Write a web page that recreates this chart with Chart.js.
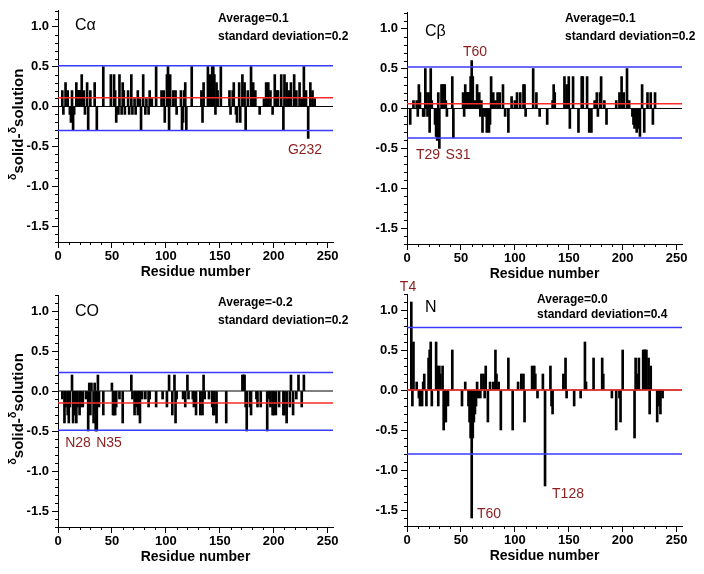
<!DOCTYPE html>
<html><head><meta charset="utf-8">
<script src="https://cdn.jsdelivr.net/npm/chart.js@4/dist/chart.umd.min.js"></script>
<style>
html,body{margin:0;padding:0;background:#fff;}
#wrap{position:relative;width:704px;height:574px;background:#fff;overflow:hidden;}
canvas{position:absolute;}
</style></head><body>
<div id="wrap">
<canvas id="c0" width="352" height="287" style="left:0px;top:0px"></canvas>
<canvas id="c1" width="352" height="287" style="left:349px;top:2px"></canvas>
<canvas id="c2" width="352" height="297" style="left:0px;top:275px"></canvas>
<canvas id="c3" width="352" height="297" style="left:349px;top:274px"></canvas>
</div>
<script>
// ---------- data ----------
const xTicks = [0, 50, 100, 150, 200, 250];
const yTicks = [1.0, 0.5, 0.0, -0.5, -1.0, -1.5];

const caRes = [4,5,7,9,11,12,13,14,15,17,18,19,20,21,22,24,25,27,28,30,34,36,42,49,52,53,54,56,57,59,60,61,62,65,66,68,69,71,72,74,76,77,79,81,82,84,85,87,91,96,98,99,101,102,103,104,107,109,110,114,115,116,117,118,119,124,133,134,135,139,141,143,144,145,146,147,148,151,159,160,162,163,165,166,168,169,171,173,174,176,179,181,183,187,191,193,195,197,199,201,203,204,207,209,210,212,214,216,219,221,224,226,228,230,232,234,236,238];
const caVal = [0.2,-0.1,0.3,0.2,-0.1,-0.2,0.2,-0.3,-0.1,0.3,0.2,0.2,0.2,0.2,0.4,0.2,-0.1,0.3,-0.3,0.2,0.3,-0.3,0.5,0.4,0.4,0.2,-0.2,-0.1,0.4,-0.1,0.3,0.2,-0.1,0.2,-0.1,0.4,-0.1,0.1,-0.1,0.2,0.1,-0.3,0.4,-0.1,0.1,-0.1,0.2,0.1,0.5,0.2,0.2,-0.2,0.4,0.5,-0.3,0.4,0.2,0.2,-0.1,0.2,-0.3,-0.2,0.2,0.3,-0.3,0.5,0.2,-0.2,0.3,0.5,0.4,0.5,0.5,0.4,-0.1,0.3,0.2,0.5,0.2,-0.1,0.2,0.3,-0.1,-0.2,0.3,-0.2,0.4,0.3,-0.3,0.2,0.5,0.3,0.2,-0.1,0.1,0.3,0.3,0.2,-0.1,0.4,0.2,0.2,0.4,-0.3,0.4,0.3,0.2,0.3,0.4,0.2,0.3,0.1,0.5,0.2,-0.4,0.3,0.2,0.1];

const cbRes = [3,6,9,10,11,12,15,16,17,18,19,20,21,22,23,26,27,28,29,30,32,33,34,35,36,37,42,43,52,53,54,55,56,57,58,59,60,61,63,65,67,68,69,70,72,74,76,77,78,79,80,82,84,86,89,91,94,97,100,102,105,108,109,110,117,120,123,130,135,136,137,146,148,150,151,154,159,162,163,167,169,171,174,176,177,179,180,183,185,194,197,199,201,204,206,209,210,211,212,213,214,215,216,218,220,223,226,228,230];
const cbVal = [-0.2,0.1,0.1,-0.1,0.3,0.2,-0.1,-0.1,0.5,0.2,-0.1,0.2,-0.3,0.5,0.1,-0.2,-0.35,-0.4,0.2,-0.5,0.3,0.3,0.3,0.3,0.1,-0.1,0.4,-0.37,0.2,-0.1,0.3,0.2,0.2,0.2,0.2,0.4,0.6,0.4,0.1,0.3,0.2,-0.1,0.1,-0.3,-0.1,-0.3,-0.3,-0.2,0.4,0.1,0.2,0.1,0.2,0.2,0.3,-0.1,-0.3,0.15,0.1,0.2,0.2,0.3,0.3,-0.1,0.5,0.2,-0.1,-0.2,0.1,0.3,0.2,0.4,0.3,0.4,-0.25,0.4,-0.3,0.4,0.4,0.4,-0.3,-0.3,0.1,0.2,-0.1,0.2,0.4,0.1,-0.2,0.1,0.2,0.4,0.2,0.5,0.1,-0.1,-0.2,-0.25,-0.2,-0.3,-0.25,-0.2,-0.35,0.3,-0.3,0.2,0.2,-0.2,0.2];

const coRes = [4,6,7,9,10,11,13,14,15,16,17,18,20,21,23,26,28,29,30,31,33,34,35,36,37,38,42,50,51,52,53,54,57,60,68,69,71,72,74,75,76,78,81,84,85,91,97,101,103,106,108,109,110,116,118,120,121,125,126,128,132,134,135,136,140,143,144,145,147,156,171,172,173,174,175,178,179,184,185,188,194,196,197,199,200,202,205,209,210,212,215,216,218,221,223,226,228];
const coVal = [-0.1,-0.4,-0.2,-0.3,-0.4,-0.2,0.2,-0.4,-0.1,-0.3,-0.4,-0.2,-0.3,-0.2,-0.2,-0.1,-0.5,0.1,-0.3,0.1,-0.4,0.1,-0.5,-0.5,0.2,-0.2,-0.3,0.1,-0.3,-0.3,-0.3,-0.2,-0.1,-0.4,0.2,-0.1,-0.3,-0.2,-0.3,-0.2,-0.4,-0.1,-0.1,-0.2,-0.1,-0.2,-0.1,-0.2,0.2,-0.3,0.2,-0.4,-0.1,-0.1,-0.2,0.2,-0.1,-0.1,-0.2,-0.3,-0.3,-0.3,0.2,-0.1,-0.1,-0.2,-0.3,-0.3,-0.4,-0.4,0.2,0.2,0.2,-0.2,-0.5,-0.2,-0.3,-0.1,-0.2,-0.2,-0.5,-0.1,-0.2,-0.3,-0.3,-0.3,-0.2,-0.3,-0.3,-0.4,-0.2,0.2,-0.3,-0.1,0.2,-0.2,0.2];

const nRes = [4,5,6,9,11,12,14,15,16,18,20,21,22,23,27,28,29,30,31,33,34,35,36,38,42,51,54,57,58,59,60,61,62,63,64,65,66,68,69,71,72,73,75,77,80,82,83,85,87,94,98,103,106,108,109,116,118,119,121,126,128,133,134,135,145,147,148,155,161,165,166,173,181,182,190,194,197,198,200,211,212,214,215,219,220,221,222,224,225,226,232,234,235,237];
const nVal = [1.1,-0.2,0.6,0.1,-0.1,-0.2,-0.2,0.1,0.2,-0.2,0.4,0.5,0.6,-0.2,0.6,0.3,-0.2,0.3,0.2,0.3,-0.5,-0.4,-0.4,-0.2,0.5,-0.2,0.1,-0.2,-0.4,-0.6,-1.6,-0.6,-0.4,-0.3,-0.2,0.1,-0.1,-0.1,0.2,0.2,-0.1,0.3,-0.4,0.1,0.1,0.5,0.2,0.1,-0.5,0.4,-0.5,0.1,0.2,0.2,-0.4,0.3,0.3,0.2,-0.1,0.2,-1.2,0.3,-0.2,-0.3,0.2,0.4,-0.1,-0.2,-0.1,0.6,0.1,0.4,0.4,0.2,-0.1,-0.5,-0.1,-0.4,0.5,-0.6,0.4,0.2,0.4,0.5,0.5,0.5,0.5,0.4,-0.3,0.3,-0.4,-0.2,-0.3,-0.1];

// reference lines: [average, upper, lower]
const caLines = [0.11, 0.51, -0.30];
const cbLines = [0.06, 0.52, -0.37];
const coLines = [-0.15, 0.23, -0.49];
const nLines  = [0.0, 0.78, -0.80];

const panelNames = ['C\u03B1', 'C\u03B2', 'CO', 'N'];
const avgTexts = ['Average=0.1', 'Average=0.1', 'Average=-0.2', 'Average=0.0'];
const sdTexts = ['standard deviation=0.2', 'standard deviation=0.2', 'standard deviation=0.2', 'standard deviation=0.4'];

// ---------- style / layout ----------
const FONT = '"Liberation Sans", Arial, Helvetica, sans-serif';
const BLUE = '#3a3aff';
const RED = '#ff2a2a';
const DARKRED = '#8b1e1e';
Chart.defaults.font.family = FONT;
Chart.defaults.color = '#000';

const layouts = [
  {canvas:'c0', off:[0,0], padTop:10, res:caRes, val:caVal, lines:caLines, yTitle:true,
   name:[75,26], avg:[218,19], sd:[218,37], marks:[['G232',305,150]]},
  {canvas:'c1', off:[349,2], padTop:10, res:cbRes, val:cbVal, lines:cbLines, yTitle:false,
   name:[425,32], avg:[565,19], sd:[565,37], marks:[['T60',475,52],['T29',428,155],['S31',458,155]]},
  {canvas:'c2', off:[0,275], padTop:20, res:coRes, val:coVal, lines:coLines, yTitle:true,
   name:[75,312], avg:[218,303], sd:[218,321], marks:[['N28',78,443],['N35',109,443]]},
  {canvas:'c3', off:[349,274], padTop:20, res:nRes, val:nVal, lines:nLines, yTitle:false,
   name:[425,308], avg:[537,300], sd:[537,315], marks:[['T4',408,287],['T60',489,514],['T128',568,494]]}
];

function isMult(v, step){ const r = v/step; return Math.abs(r - Math.round(r)) < 1e-6; }
function hline(v){ return [{x:0,y:v},{x:255,y:v}]; }

function drawYTitle(ctx, cx, cy){
  const parts = [['\u03B4',1],['solid',0],['-',0],['\u03B4',1],['solution',0]];
  const big = 'bold 15px ' + FONT, small = 'bold 11px ' + FONT;
  ctx.save();
  let w = 0;
  const ws = parts.map(p => { ctx.font = p[1] ? small : big; const m = ctx.measureText(p[0]).width; w += m; return m; });
  ctx.translate(cx, cy); ctx.rotate(-Math.PI/2);
  ctx.textAlign = 'left'; ctx.textBaseline = 'alphabetic'; ctx.fillStyle = '#000';
  let x = -w/2;
  parts.forEach((p,i) => { ctx.font = p[1] ? small : big; ctx.fillText(p[0], x, p[1] ? -7 : 0); x += ws[i]; });
  ctx.restore();
}

const xTickValues = [];
for (let v = 0; v <= 250; v += 10) xTickValues.push(v);

layouts.forEach((L, idx) => {
  const el = document.getElementById(L.canvas);
  const ox = L.off[0], oy = L.off[1];
  const textPlugin = {
    id: 'panelText',
    afterDraw(chart){
      const ctx = chart.ctx, xs = chart.scales.x, ys = chart.scales.y, a = chart.chartArea;
      ctx.save();
      ctx.strokeStyle = '#000'; ctx.lineWidth = 1;
      ctx.beginPath();
      for (let v = 0; v <= 250; v += 10) {
        if (v % 50 === 0) continue;
        const px = Math.round(xs.getPixelForValue(v)) + 0.5;
        ctx.moveTo(px, a.bottom); ctx.lineTo(px, a.bottom + 3);
      }
      for (let k = -17; k <= 12; k++) {
        if (k % 5 === 0) continue;
        const py = Math.round(ys.getPixelForValue(k/10)) + 0.5;
        ctx.moveTo(a.left - 3, py); ctx.lineTo(a.left, py);
      }
      ctx.stroke();
      ctx.fillStyle = '#000';
      ctx.font = 'bold 14px ' + FONT;
      ctx.textAlign = 'center'; ctx.textBaseline = 'middle';
      ctx.fillText('Residue number', (a.left + a.right)/2, a.bottom + 30);
      ctx.font = '16px ' + FONT; ctx.textAlign = 'left';
      ctx.fillText(panelNames[idx], L.name[0]-ox, L.name[1]-oy);
      ctx.font = 'bold 12px ' + FONT;
      ctx.fillText(avgTexts[idx], L.avg[0]-ox, L.avg[1]-oy);
      ctx.fillText(sdTexts[idx], L.sd[0]-ox, L.sd[1]-oy);
      ctx.fillStyle = DARKRED; ctx.font = '14px ' + FONT; ctx.textAlign = 'center';
      L.marks.forEach(m => ctx.fillText(m[0], m[1]-ox, m[2]-oy));
      ctx.restore();
      if (L.yTitle) drawYTitle(ctx, 23, (a.top + a.bottom)/2 - 2);
    }
  };
  const bars = L.res.map((r,i) => ({x:r, y:L.val[i]}));
  new Chart(el, {
    type: 'bar',
    data: { datasets: [
      {type:'line', data:hline(L.lines[1]), borderColor:BLUE, borderWidth:1.5, pointRadius:0, order:0},
      {type:'line', data:hline(L.lines[2]), borderColor:BLUE, borderWidth:1.5, pointRadius:0, order:0},
      {type:'line', data:hline(L.lines[0]), borderColor:RED, borderWidth:1.5, pointRadius:0, order:0},
      {type:'bar', data:bars, backgroundColor:'#000', borderWidth:0, barThickness:2, order:1},
      {type:'line', data:hline(0), borderColor:'#000', borderWidth:1, pointRadius:0, order:2}
    ]},
    options: {
      responsive:false, animation:false, devicePixelRatio:1,
      layout:{padding:{top:L.padTop, right:19, left:0, bottom:0}},
      plugins:{legend:{display:false}, tooltip:{enabled:false}},
      scales:{
        x:{type:'linear', min:0, max:255, offset:false,
           afterFit: s => { s.height = 45; },
           afterBuildTicks: s => { s.ticks = xTickValues.map(v => ({value:v})); },
           border:{display:true, color:'#000', width:1},
           grid:{display:true, drawOnChartArea:false, offset:false, tickLength:6, tickWidth:1,
                 tickColor: c => (c.tick && xTicks.includes(c.tick.value)) ? '#000' : 'rgba(0,0,0,0)'},
           ticks:{autoSkip:false, maxRotation:0, padding:1, color:'#000',
                  font:{size:13, weight:'bold'},
                  callback: v => xTicks.includes(v) ? String(v) : ''}},
        y:{type:'linear', min:-1.7, max:1.2,
           afterFit: s => { s.width = 58; },
           border:{display:true, color:'#000', width:1},
           grid:{display:true, drawOnChartArea:false, tickLength:6, tickWidth:1,
                 tickColor: c => (c.tick && isMult(c.tick.value, 0.5)) ? '#000' : 'rgba(0,0,0,0)'},
           ticks:{stepSize:0.1, autoSkip:false, padding:3, color:'#000',
                  font:{size:13, weight:'bold'},
                  callback: v => yTicks.some(t => Math.abs(t - v) < 1e-6) ? v.toFixed(1).replace('-0.0','0.0') : ''}}
      }
    },
    plugins:[textPlugin]
  });
});
</script>
</body></html>
